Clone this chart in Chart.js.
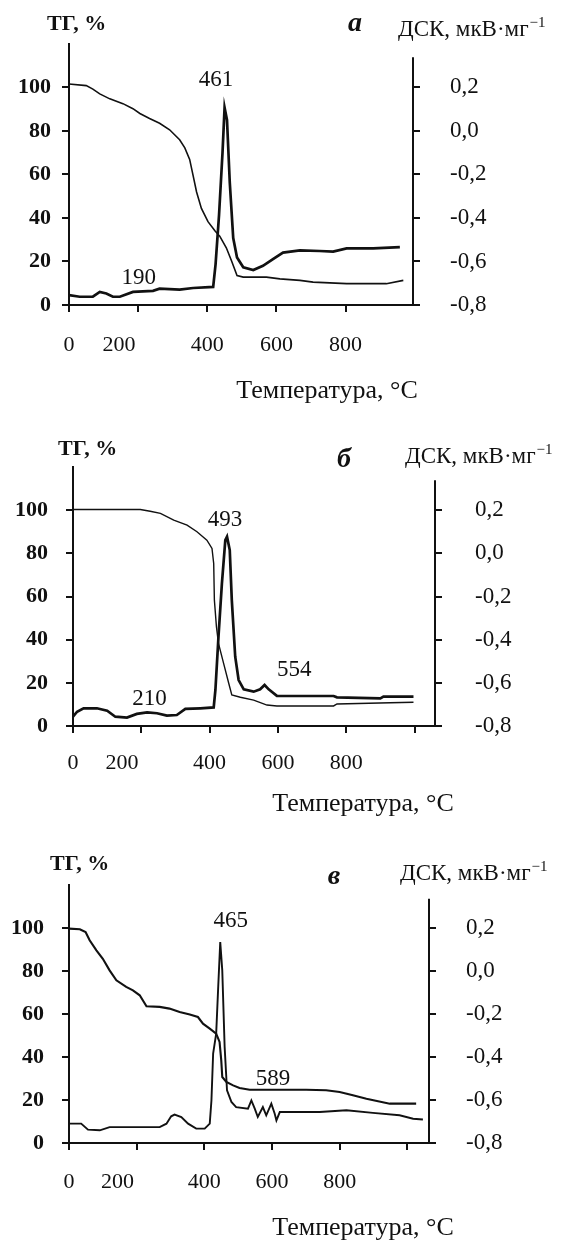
<!DOCTYPE html>
<html>
<head>
<meta charset="utf-8">
<script src="https://cdn.jsdelivr.net/npm/chart.js@4.4.1/dist/chart.umd.min.js"></script>
<style>
  html, body { margin: 0; padding: 0; background: #fff; }
  body { width: 564px; height: 1241px; position: relative; overflow: hidden; }
  .panel { position: absolute; left: 0; width: 564px; }
  .panel canvas { display: block; }
</style>
</head>
<body>
<div class="panel" style="top:0;height:420px"><canvas id="chartA" width="564" height="420"></canvas></div>
<div class="panel" style="top:420px;height:415px"><canvas id="chartB" width="564" height="415"></canvas></div>
<div class="panel" style="top:835px;height:406px"><canvas id="chartC" width="564" height="406"></canvas></div>
<script>
// axis ticks
const tempTicks = [0, 200, 400, 600, 800, 1000];
const tempLabels = ['0', '200', '400', '600', '800', ''];
const tgTicks = [0, 20, 40, 60, 80, 100];
const dscTicks = [-0.8, -0.6, -0.4, -0.2, 0, 0.2];
const dscLabels = ['-0,8', '-0,6', '-0,4', '-0,2', '0,0', '0,2'];

// panel а
const tempTgA = [0, 50, 69, 89, 118, 156, 185, 205, 233, 262, 291, 320, 335, 349, 359, 369, 383, 402, 422, 436, 455, 470, 486, 504, 571, 610, 668, 706, 803, 918, 967];
const tgA = [101.5, 100.8, 99.2, 97, 94.7, 92.5, 90.2, 88, 85.7, 83.5, 80.5, 75.9, 72.2, 66.9, 59.4, 51.9, 44.4, 38.3, 34.1, 31.6, 26.3, 20.3, 13.5, 12.8, 12.8, 12, 11.3, 10.5, 9.8, 9.8, 11.3];
const tempDscA = [0, 31, 69, 89, 108, 127, 147, 185, 243, 262, 320, 359, 417, 424, 434, 444, 450, 457, 465, 475, 486, 504, 533, 561, 590, 619, 668, 725, 764, 803, 880, 957];
const dscA = [-0.755, -0.762, -0.762, -0.74, -0.747, -0.762, -0.762, -0.74, -0.735, -0.725, -0.729, -0.722, -0.717, -0.612, -0.386, -0.101, 0.107, 0.05, -0.236, -0.492, -0.582, -0.627, -0.639, -0.62, -0.589, -0.559, -0.549, -0.552, -0.555, -0.54, -0.54, -0.534];
const peaksA = ['461', '190'];
const peakTA = [425, 202];
const peakYA = [100.7, 9.8];

// panel б
const tempTgB = [0, 197, 226, 256, 295, 334, 363, 392, 407, 412, 414, 420, 426, 441, 456, 465, 490, 529, 568, 597, 763, 773, 929, 997];
const tgB = [100.3, 100.3, 99.5, 98.5, 95.4, 93.1, 90, 86.1, 82.3, 75.3, 58.3, 46, 38.3, 29, 19.8, 14.4, 13.3, 12, 9.7, 9.3, 9.3, 10.2, 10.8, 11];
const tempDscB = [0, 12, 31, 70, 100, 124, 158, 187, 217, 246, 275, 304, 329, 373, 412, 417, 426, 436, 446, 451, 459, 465, 475, 485, 500, 529, 548, 561, 573, 597, 763, 773, 900, 909, 997];
const dscB = [-0.757, -0.734, -0.718, -0.718, -0.729, -0.757, -0.761, -0.744, -0.737, -0.741, -0.752, -0.749, -0.721, -0.718, -0.714, -0.633, -0.386, -0.14, 0.061, 0.077, 0.015, -0.217, -0.479, -0.587, -0.63, -0.641, -0.63, -0.61, -0.63, -0.66, -0.661, -0.667, -0.672, -0.664, -0.664];
const peaksB = ['493', '554', '210'];
const peakTB = [445, 648, 224];
const peakYB = [92.6, 23.1, 9.7];

// panel в
const tempTgC = [0, 32, 49, 61, 81, 100, 120, 140, 169, 189, 209, 229, 268, 297, 327, 357, 381, 396, 416, 435, 445, 450, 453, 465, 485, 504, 534, 701, 760, 800, 839, 879, 948, 1026];
const tgC = [99.7, 99.4, 98.1, 94.3, 89.6, 85.7, 80.3, 75.7, 72.6, 71, 68.7, 63.6, 63.3, 62.5, 60.9, 59.8, 58.6, 55.5, 53.2, 50.9, 47, 38.4, 30.7, 28.4, 26.8, 25.6, 24.8, 24.8, 24.5, 23.7, 22.2, 20.6, 18.3, 18.3];
const tempDscC = [0, 36, 56, 91, 120, 268, 288, 302, 312, 332, 352, 376, 401, 416, 421, 426, 435, 441, 447, 453, 460, 467, 480, 494, 529, 539, 549, 558, 573, 583, 598, 608, 613, 623, 741, 820, 898, 977, 1017, 1046];
const dscC = [-0.71, -0.71, -0.738, -0.741, -0.726, -0.726, -0.71, -0.676, -0.668, -0.679, -0.71, -0.733, -0.733, -0.71, -0.602, -0.384, -0.291, -0.074, 0.135, 0.003, -0.353, -0.555, -0.609, -0.633, -0.64, -0.602, -0.64, -0.679, -0.633, -0.671, -0.617, -0.664, -0.695, -0.656, -0.656, -0.648, -0.66, -0.671, -0.687, -0.691];
const peaksC = ['465', '589'];
const peakTC = [478, 603];
const peakYC = [100.5, 26.8];

const ink = '#111';
const serif = '"Liberation Serif", "Times New Roman", serif';
const shift200 = '       '; // the 200 label sits left of its tick in the original

const toPoints = (xs, ys) => xs.map((x, i) => ({ x: x, y: ys[i] }));

// headers, axis lines and peak labels
const decor = {
  id: 'decor',
  afterDraw(chart, args, o) {
    const ctx = chart.ctx;
    const area = chart.chartArea;
    const sc = chart.scales;
    ctx.save();
    ctx.strokeStyle = ink;
    ctx.lineWidth = 2;
    ctx.beginPath();
    ctx.moveTo(area.right, sc.y2.getPixelForValue(o.rightTop));
    ctx.lineTo(area.right, area.bottom + 1);
    ctx.stroke();

    ctx.fillStyle = ink;
    ctx.textBaseline = 'alphabetic';
    ctx.textAlign = 'left';
    ctx.font = 'bold 22px ' + serif;
    ctx.fillText('ТГ, %', o.tg[0], o.tg[1]);

    ctx.textAlign = 'center';
    ctx.font = 'italic bold 28px ' + serif;
    ctx.fillText(o.letter, o.letterPos[0], o.letterPos[1]);

    ctx.textAlign = 'left';
    ctx.font = '23px ' + serif;
    const head = 'ДСК, мкВ·мг';
    ctx.fillText(head, o.dsc[0], o.dsc[1]);
    const w = ctx.measureText(head).width;
    ctx.font = '15px ' + serif;
    ctx.fillText('\u22121', o.dsc[0] + w + 1, o.dsc[1] - 9);

    ctx.textAlign = 'center';
    ctx.font = '26px ' + serif;
    ctx.fillText('Температура, °C', o.title[0], o.title[1]);

    ctx.font = '23px ' + serif;
    o.peaks.forEach((txt, i) => {
      ctx.fillText(txt, sc.x.getPixelForValue(o.peakT[i]), sc.y.getPixelForValue(o.peakY[i]));
    });
    ctx.restore();
  }
};

function makeChart(p) {
  const axisGrid = { display: true, drawOnChartArea: false, drawTicks: true, tickLength: 7, color: ink, lineWidth: 2 };
  const axisBorder = { display: true, color: ink, width: 2 };
  new Chart(document.getElementById(p.id), {
    type: 'line',
    data: {
      datasets: [
        { data: toPoints(p.tempTg, p.tg), yAxisID: 'y', borderColor: ink, borderWidth: p.tgWidth, pointRadius: 0, tension: 0, fill: false },
        { data: toPoints(p.tempDsc, p.dsc), yAxisID: 'y2', borderColor: ink, borderWidth: p.dscWidth, pointRadius: 0, tension: 0, fill: false }
      ]
    },
    options: {
      responsive: false,
      animation: false,
      layout: { padding: { top: p.padTop, left: 0, right: 0, bottom: 0 } },
      plugins: {
        legend: { display: false },
        tooltip: { enabled: false },
        decor: {
          rightTop: p.rightTop, tg: p.tgHead, letter: p.letter, letterPos: p.letterPos,
          dsc: p.dscHead, title: p.titlePos, peaks: p.peaks, peakT: p.peakT, peakY: p.peakY
        }
      },
      scales: {
        x: {
          type: 'linear', min: 0, max: p.xMax,
          afterFit: s => { s.height = p.bottomH; },
          afterBuildTicks: s => { s.ticks = tempTicks.filter(v => v <= p.xMax).map(v => ({ value: v })); },
          ticks: {
            color: ink, padding: p.xPad, maxRotation: 0, autoSkip: false,
            font: { family: serif, size: 22 },
            callback: v => {
              const s = tempLabels[tempTicks.indexOf(v)] || '';
              return v === 200 ? s + shift200 : s;
            }
          },
          grid: axisGrid, border: axisBorder
        },
        y: {
          position: 'left', min: 0, max: 120,
          afterFit: s => { s.width = p.leftW; },
          afterBuildTicks: s => { s.ticks = tgTicks.map(v => ({ value: v })); },
          ticks: { color: ink, padding: p.leftPad, font: { family: serif, size: 22, weight: 'bold' } },
          grid: axisGrid, border: axisBorder
        },
        y2: {
          position: 'right', min: -0.8, max: 0.4,
          afterFit: s => { s.width = p.rightW; },
          afterBuildTicks: s => { s.ticks = dscTicks.map(v => ({ value: v })); },
          ticks: {
            color: ink, padding: p.rightPad, font: { family: serif, size: 23 },
            callback: v => {
              const i = dscTicks.findIndex(t => Math.abs(t - v) < 1e-6);
              return i >= 0 ? dscLabels[i] : '';
            }
          },
          grid: axisGrid, border: { display: false }
        }
      }
    },
    plugins: [decor]
  });
}

makeChart({
  id: 'chartA', tempTg: tempTgA, tg: tgA, tempDsc: tempDscA, dsc: dscA,
  peaks: peaksA, peakT: peakTA, peakY: peakYA, letter: 'а',
  xMax: 995, padTop: 39, leftW: 69, rightW: 151, bottomH: 115,
  leftPad: 11, rightPad: 30, xPad: 20, tgWidth: 1.6, dscWidth: 2.7, rightTop: 0.338,
  tgHead: [47, 29.5], letterPos: [355, 31], dscHead: [398, 36], titlePos: [327, 398]
});

makeChart({
  id: 'chartB', tempTg: tempTgB, tg: tgB, tempDsc: tempDscB, dsc: dscB,
  peaks: peaksB, peakT: peakTB, peakY: peakYB, letter: 'б',
  xMax: 1060, padTop: 47, leftW: 73, rightW: 129, bottomH: 109,
  leftPad: 18, rightPad: 33, xPad: 17, tgWidth: 1.4, dscWidth: 2.7, rightTop: 0.339,
  tgHead: [58, 35], letterPos: [344, 47], dscHead: [405, 43], titlePos: [363, 391]
});

makeChart({
  id: 'chartC', tempTg: tempTgC, tg: tgC, tempDsc: tempDscC, dsc: dscC,
  peaks: peaksC, peakT: peakTC, peakY: peakYC, letter: 'в',
  xMax: 1064, padTop: 50, leftW: 69, rightW: 135, bottomH: 98,
  leftPad: 18, rightPad: 30, xPad: 19, tgWidth: 2.1, dscWidth: 1.9, rightTop: 0.336,
  tgHead: [50, 35], letterPos: [334, 49], dscHead: [400, 45], titlePos: [363, 400]
});
</script>
</body>
</html>
